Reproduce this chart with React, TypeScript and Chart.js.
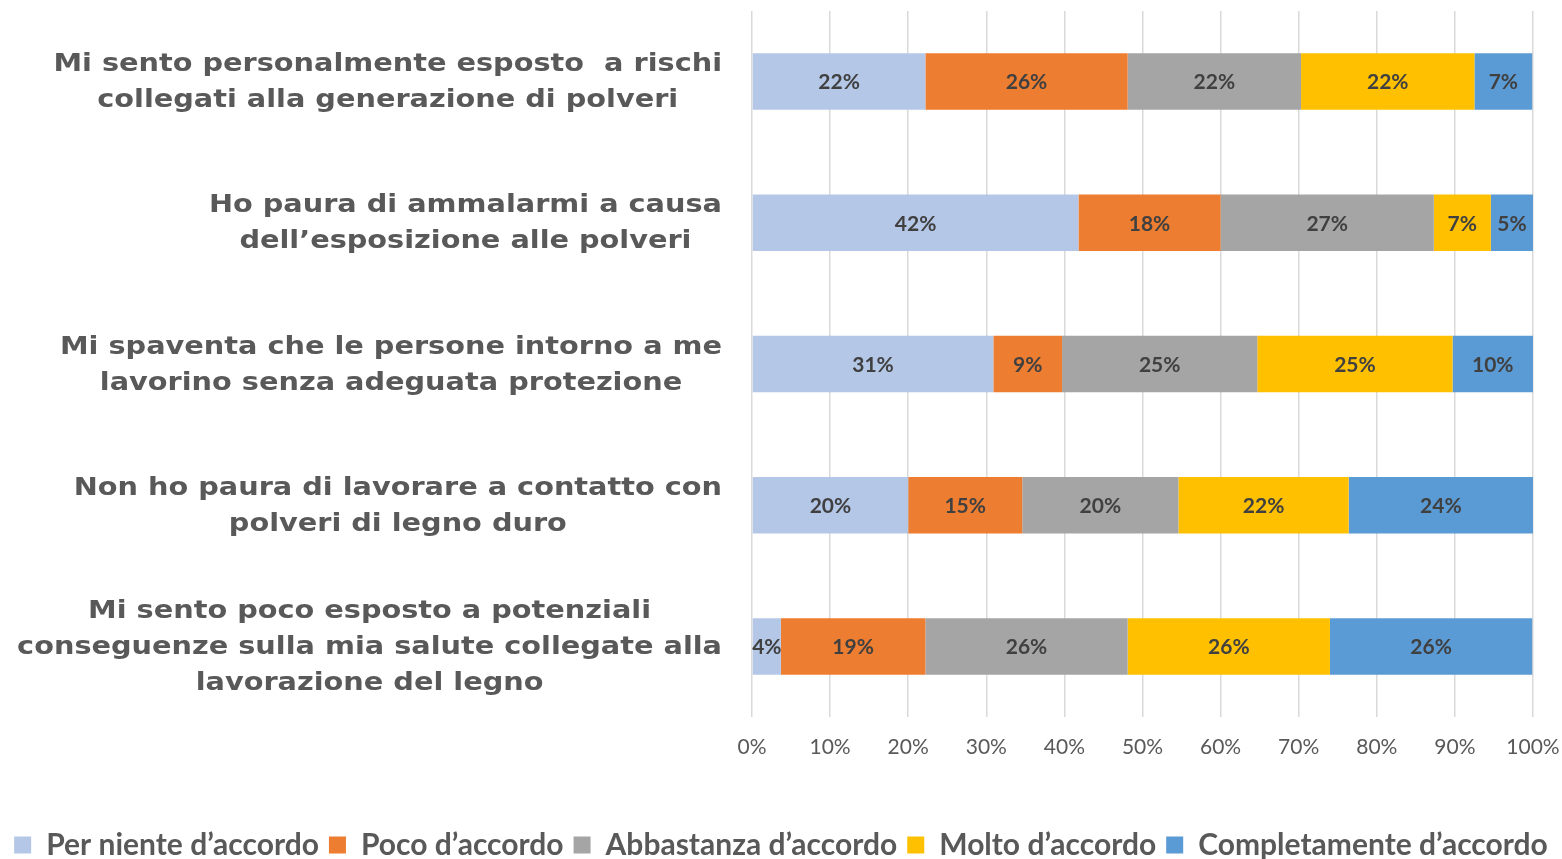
import React, { useEffect, useRef } from "react";
import { Chart, registerables } from "chart.js";

Chart.register(...registerables);

const categories: string[][] = [
  ["Mi sento personalmente esposto  a rischi", "collegati alla generazione di polveri"],
  ["Ho paura di ammalarmi a causa", "dell\u2019esposizione alle polveri"],
  ["Mi spaventa che le persone intorno a me", "lavorino senza adeguata protezione"],
  ["Non ho paura di lavorare a contatto con", "polveri di legno duro"],
  ["Mi sento poco esposto a potenziali", "conseguenze sulla mia salute collegate alla", "lavorazione del legno"],
];

const seriesNames = [
  "Per niente d\u2019accordo",
  "Poco d\u2019accordo",
  "Abbastanza d\u2019accordo",
  "Molto d\u2019accordo",
  "Completamente d\u2019accordo",
];

const perNiente = [22.2, 41.8, 30.9, 20.0, 3.7];
const poco = [25.9, 18.2, 8.8, 14.6, 18.5];
const abbastanza = [22.2, 27.3, 25.0, 20.0, 25.9];
const molto = [22.2, 7.3, 25.0, 21.8, 25.9];
const completamente = [7.4, 5.4, 10.3, 23.6, 25.9];

const xTicks = [0, 10, 20, 30, 40, 50, 60, 70, 80, 90, 100];

const colors = ["#B4C7E7", "#ED7D31", "#A5A5A5", "#FFC000", "#5B9BD5"];

const yLabelPlugin = {
  id: "yLabelPlugin",
  afterDraw(chart: any) {
    const ctx = chart.ctx;
    const y = chart.scales.y;
    const rightEdge = 722;
    const lineH = 36;
    const sx = 1.15;
    ctx.save();
    ctx.font = "bold 25px 'DejaVu Sans'";
    ctx.fillStyle = "#595959";
    ctx.textBaseline = "middle";
    ctx.textAlign = "center";
    (chart.data.labels as string[][]).forEach((lines, i) => {
      const cy = y.getPixelForTick(i) + 1;
      const widths = lines.map((l) => ctx.measureText(l).width * sx);
      const maxW = Math.max(...widths);
      const cx = rightEdge - maxW / 2;
      const startY = cy - ((lines.length - 1) * lineH) / 2;
      lines.forEach((l, j) => {
        ctx.save();
        ctx.translate(cx, startY + j * lineH);
        ctx.scale(sx, 1);
        ctx.fillText(l, 0, 0);
        ctx.restore();
      });
    });
    ctx.restore();
  },
};

const dataLabelPlugin = {
  id: "dataLabelPlugin",
  afterDatasetsDraw(chart: any) {
    const ctx = chart.ctx;
    ctx.save();
    ctx.font = "bold 21px Lato";
    ctx.fillStyle = "#404040";
    ctx.textAlign = "center";
    ctx.textBaseline = "middle";
    chart.data.datasets.forEach((ds: any, di: number) => {
      const meta = chart.getDatasetMeta(di);
      meta.data.forEach((el: any, i: number) => {
        const v = ds.data[i];
        const cx = (el.x + el.base) / 2;
        ctx.fillText(Math.round(v) + "%", cx, el.y + 1);
      });
    });
    ctx.restore();
  },
};

export default function App() {
  const canvasRef = useRef<HTMLCanvasElement | null>(null);

  useEffect(() => {
    document.body.style.margin = "0";
    const canvas = canvasRef.current;
    if (!canvas) return;
    const seriesData = [perNiente, poco, abbastanza, molto, completamente];
    const chart = new Chart(canvas, {
      type: "bar",
      data: {
        labels: categories as any,
        datasets: seriesNames.map((name, i) => ({
          label: name,
          data: seriesData[i],
          backgroundColor: colors[i],
          borderWidth: 0,
          barPercentage: 0.4,
          categoryPercentage: 1,
        })),
      },
      options: {
        indexAxis: "y",
        animation: false,
        responsive: true,
        maintainAspectRatio: false,
        layout: { padding: { top: 11, left: 0, right: 0, bottom: -11 } },
        scales: {
          x: {
            stacked: true,
            min: 0,
            max: 100,
            afterBuildTicks: (scale: any) => {
              scale.ticks = xTicks.map((v) => ({ value: v }));
            },
            afterFit: (scale: any) => {
              scale.paddingLeft = 0;
              scale.paddingRight = 29;
              scale.height = 103;
            },
            ticks: {
              callback: (v: any) => v + "%",
              font: { family: "Lato", size: 21 },
              color: "#595959",
              padding: 18,
              maxRotation: 0,
            },
            grid: { color: "#D9D9D9", lineWidth: 1.5, drawTicks: false },
            border: { display: false },
          },
          y: {
            stacked: true,
            afterFit: (scale: any) => {
              scale.width = 752;
            },
            ticks: { display: false },
            grid: { display: false },
            border: { display: false },
          },
        },
        plugins: {
          legend: {
            position: "bottom",
            labels: {
              font: { family: "Lato", size: 30, weight: "bold" },
              color: "#595959",
              boxWidth: 17,
              boxHeight: 17,
              padding: 10,
            },
          },
          tooltip: { enabled: false },
        },
      },
      plugins: [yLabelPlugin, dataLabelPlugin],
    });
    return () => chart.destroy();
  }, []);

  return (
    <div style={{ width: 1562, height: 859, position: "relative", overflow: "hidden" }}>
      <canvas ref={canvasRef} />
    </div>
  );
}
